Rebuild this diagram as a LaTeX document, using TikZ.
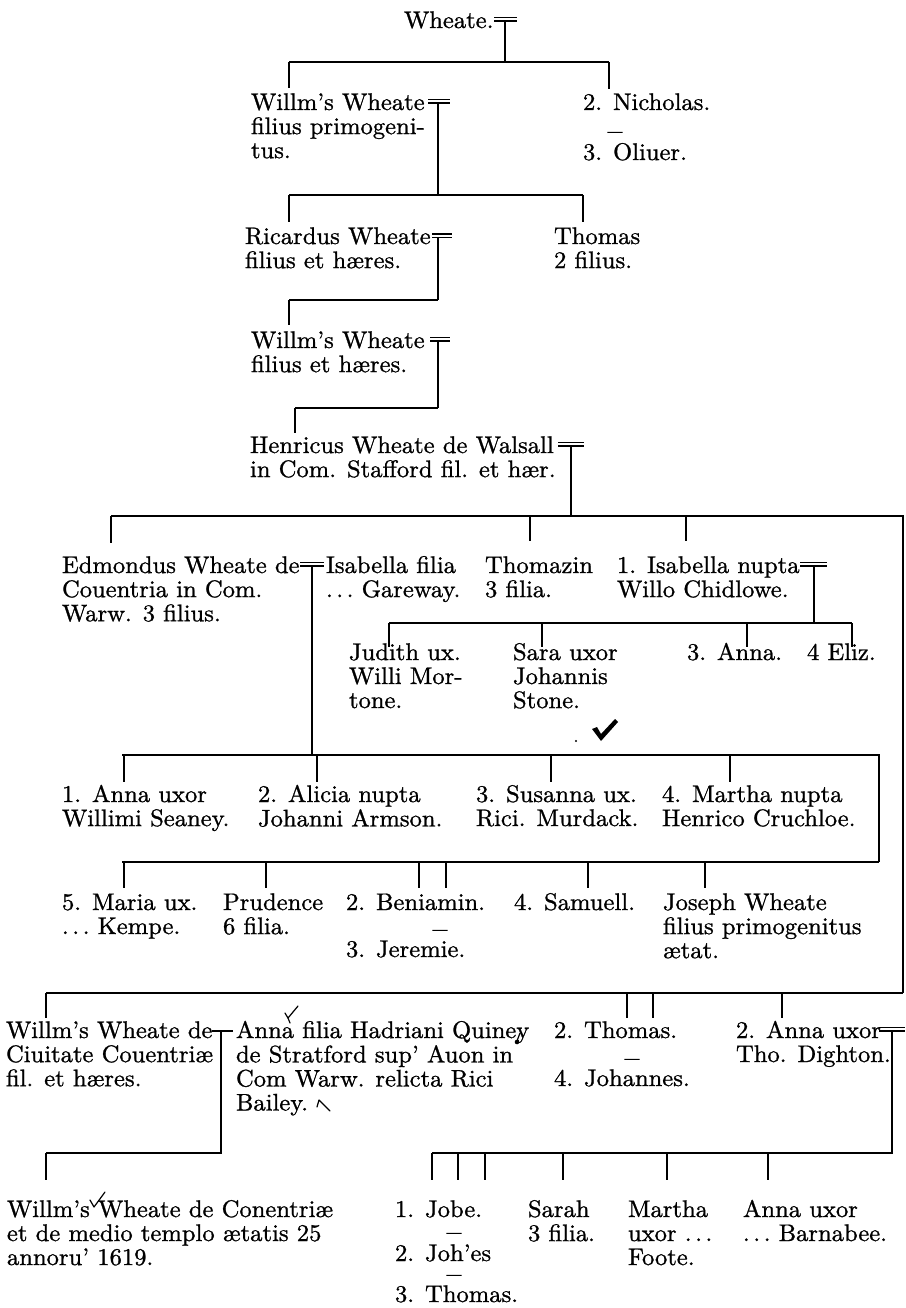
\documentclass[tikz,border=0pt]{standalone}
\usepackage{fontspec}
\setmainfont{lmroman10-regular.otf}[FakeStretch=1.025,FakeBold=1.0]
\newcommand{\txl}[1]{\begin{tabular}[t]{@{}l@{}}#1\end{tabular}}
\newcommand{\dds}{.\kern3.5pt.\kern3.5pt.}
\begin{document}
\begin{tikzpicture}[x=1pt,y=-1pt,
  txt/.style={anchor=base west,inner sep=0pt,outer sep=0pt,font=\fontsize{24}{24}\selectfont},
  dsh/.style={anchor=base,inner sep=0pt,outer sep=0pt,font=\fontsize{14}{14}\selectfont\addfontfeature{FakeBold=5}},
  ln/.style={line width=1.1pt},
  drop/.style={line width=1.4pt},
  wed/.style={line width=1.1pt},
  scrib/.style={line width=1.2pt,line cap=round,line join=round}]
\fill[white] (0,0) rectangle (905,1308);
\useasboundingbox (0,0) rectangle (905,1308);

% ---------- text ----------
\node[txt] (n0) at (404,28) {Wheate.};
\node[txt] (n1) at (251,110) {\txl{Willm's Wheate\\filius primogeni-\\tus.}};
\node[txt] (n2) at (583,110) {2. Nicholas.};
\node[dsh] (n2d) at (615,136) {—};
\node[txt] (n2b) at (583,160) {3. Oliuer.};
\node[txt] (n3) at (245,244) {\txl{Ricardus Wheate\\filius et hæres.}};
\node[txt] (n4) at (554,244) {\txl{Thomas\\2 filius.}};
\node[txt] (n5) at (251,348) {\txl{Willm's Wheate\\filius et hæres.}};
\node[txt] (n6) at (250,453) {\txl{Henricus Wheate de Walsall\\in Com. Stafford fil. et hær.}};
\node[txt] (n7) at (62,573) {\txl{Edmondus Wheate de\\Couentria in Com.\\Warw. 3 filius.}};
\node[txt] (n8) at (326,573) {\txl{Isabella filia\\\dds\ Gareway.}};
\node[txt] (n9) at (485,573) {\txl{Thomazin\\3 filia.}};
\node[txt] (n10) at (617,573) {\txl{1. Isabella nupta\\Willo Chidlowe.}};
\node[txt] (n11) at (349,660) {\txl{Judith ux.\\Willi Mor-\\tone.}};
\node[txt] (n12) at (513,660) {\txl{Sara uxor\\Johannis\\Stone.}};
\node[txt] (n13) at (687,660) {3. Anna.};
\node[txt] (n14) at (807,660) {4 Eliz.};
\node[txt] (n15) at (62,802) {\txl{1. Anna uxor\\Willimi Seaney.}};
\node[txt] (n16) at (258,802) {\txl{2. Alicia nupta\\Johanni Armson.}};
\node[txt] (n17) at (476,802) {\txl{3. Susanna ux.\\Rici. Murdack.}};
\node[txt] (n18) at (662,802) {\txl{4. Martha nupta\\Henrico Cruchloe.}};
\node[txt] (n19) at (62,910) {\txl{5. Maria ux.\\\dds\ Kempe.}};
\node[txt] (n20) at (223,910) {\txl{Prudence\\6 filia.}};
\node[txt] (n21) at (346,910) {2. Beniamin.};
\node[dsh] (n21d) at (440,934) {—};
\node[txt] (n21b) at (346,957) {3. Jeremie.};
\node[txt] (n22) at (514,910) {4. Samuell.};
\node[txt] (n23) at (663,910) {\txl{Joseph Wheate\\filius primogenitus\\ætat.}};
\node[txt] (n24) at (6,1038) {\txl{Willm's Wheate de\\Ciuitate Couentriæ\\fil. et hæres.}};
\node[txt] (n25) at (236,1038) {\txl{Anna filia Hadriani Quiney\\de Stratford sup' Auon in\\Com Warw. relicta Rici\\Bailey.}};
\node[txt] (n26) at (554,1038) {2. Thomas.};
\node[dsh] (n26d) at (632,1063) {—};
\node[txt] (n26b) at (554,1086) {4. Johannes.};
\node[txt] (n27) at (736,1038) {\txl{2. Anna uxor\\Tho. Dighton.}};
\node[txt] (n28) at (7,1217) {\txl{Willm's Wheate de Conentriæ\\et de medio templo ætatis 25\\annoru' 1619.}};
\node[txt] (n29) at (395,1217) {1. Jobe.};
\node[dsh] (n29d) at (454,1237) {—};
\node[txt] (n29b) at (395,1261) {2. Joh'es};
\node[dsh] (n29e) at (454,1279) {—};
\node[txt] (n29c) at (395,1302) {3. Thomas.};
\node[txt] (n30) at (528,1217) {\txl{Sarah\\3 filia.}};
\node[txt] (n31) at (628,1217) {\txl{Martha\\uxor \dds\\Foote.}};
\node[txt] (n32) at (743,1217) {\txl{Anna uxor\\\dds\ Barnabee.}};

% ---------- marriage signs ----------
\coordinate (m0) at (505,21); \draw[wed] (494,17.5) -- (517,17.5) (494,21) -- (517,21);
\coordinate (m1) at (438,103); \draw[wed] (428,99.5) -- (450,99.5) (428,103) -- (450,103);
\coordinate (m2) at (438,237.5); \draw[wed] (432,234) -- (452,234) (432,237.5) -- (452,237.5);
\coordinate (m3) at (438,341); \draw[wed] (430,337.5) -- (450,337.5) (430,341) -- (450,341);
\coordinate (m4) at (571,446); \draw[wed] (558,442.5) -- (584,442.5) (558,446) -- (584,446);
\coordinate (m5) at (312,566); \draw[wed] (300,562.5) -- (324,562.5) (300,566) -- (324,566);
\coordinate (m6) at (814,566); \draw[wed] (800,562.5) -- (827,562.5) (800,566) -- (827,566);
\coordinate (m7) at (221,1031); \draw[wed] (212,1031) -- (233,1031);
\coordinate (m8) at (892,1031); \draw[wed] (879,1027.5) -- (905,1027.5) (879,1031) -- (905,1031);

% ---------- lines of descent ----------
\coordinate (a1) at (289,62);  \coordinate (b1) at (609,62);
\draw[ln] (m0) -- (m0 |- a1); \draw[ln] (a1) -- (b1);
\draw[drop] (a1) -- ++(0,26); \draw[drop] (b1) -- ++(0,27);

\coordinate (a2) at (289,195); \coordinate (b2) at (583,195);
\draw[ln] (m1) -- (m1 |- a2); \draw[ln] (a2) -- (b2);
\draw[drop] (a2) -- ++(0,27); \draw[drop] (b2) -- ++(0,27);

\coordinate (a3) at (289,300);
\draw[ln] (m2) -- (m2 |- a3); \draw[ln] (a3) -- (m2 |- a3);
\draw[drop] (a3) -- ++(0,25);

\coordinate (a4) at (295,408);
\draw[ln] (m3) -- (m3 |- a4); \draw[ln] (a4) -- (m3 |- a4);
\draw[drop] (a4) -- ++(0,25);

\coordinate (a5) at (111,516); \coordinate (b5) at (903,516); \coordinate (c9) at (903,993);
\draw[ln] (m4) -- (m4 |- a5); \draw[ln] (a5) -- (b5) -- (c9);
\draw[drop] (a5) -- ++(0,27);
\coordinate (t5a) at (530,516); \draw[drop] (t5a) -- ++(0,25);
\coordinate (t5b) at (686,516); \draw[drop] (t5b) -- ++(0,25);

\coordinate (a6) at (389,623); \coordinate (b6) at (852,623);
\draw[ln] (m6) -- (m6 |- a6); \draw[ln] (a6) -- (b6);
\foreach \x in {389,542,747,852} \draw[drop] (\x,623) -- ++(0,24);

\coordinate (a7) at (122,755); \coordinate (b7) at (879,755); \coordinate (c7) at (879,862);
\draw[ln] (m5) -- (m5 |- a7); \draw[ln] (a7) -- (b7) -- (c7);
\foreach \x in {124,317,551,730} \draw[drop] (\x,755) -- ++(0,27);

\coordinate (a8) at (122,862);
\draw[ln] (a8) -- (c7);
\foreach \x in {124,266,419,446,588,705} \draw[drop] (\x,862) -- ++(0,26);

\coordinate (a9) at (46,993);
\draw[ln] (a9) -- (c9);
\foreach \x in {46,627,653,782} \draw[drop] (\x,993) -- ++(0,25);

\coordinate (a10) at (46,1153);
\draw[ln] (m7) -- (m7 |- a10) -- (a10);
\draw[drop] (a10) -- ++(0,27);

\coordinate (a11) at (432,1153);
\draw[ln] (m8) -- (m8 |- a11) -- (a11);
\foreach \x in {432,458,485,563,667,768} \draw[drop] (\x,1153) -- ++(0,27);

% ---------- annotations ----------
\fill (592,729) -- (597,727) -- (601,734) -- (615,719) -- (618,722) -- (601,741) -- cycle;
\fill (576,741) circle (1.1);
\draw[scrib] (285,1013) -- (288,1018) -- (298,1006);
\draw[scrib] (288,1018) -- (290,1023);
\draw[scrib] (90,1200) -- (94,1207) -- (105,1192);
\draw[scrib] (330,1111) -- (319,1100) -- (317,1107);
\draw[scrib] (520,1033) -- (517,1041);
\fill (517,1042) circle (2.3);
\end{tikzpicture}
\end{document}
